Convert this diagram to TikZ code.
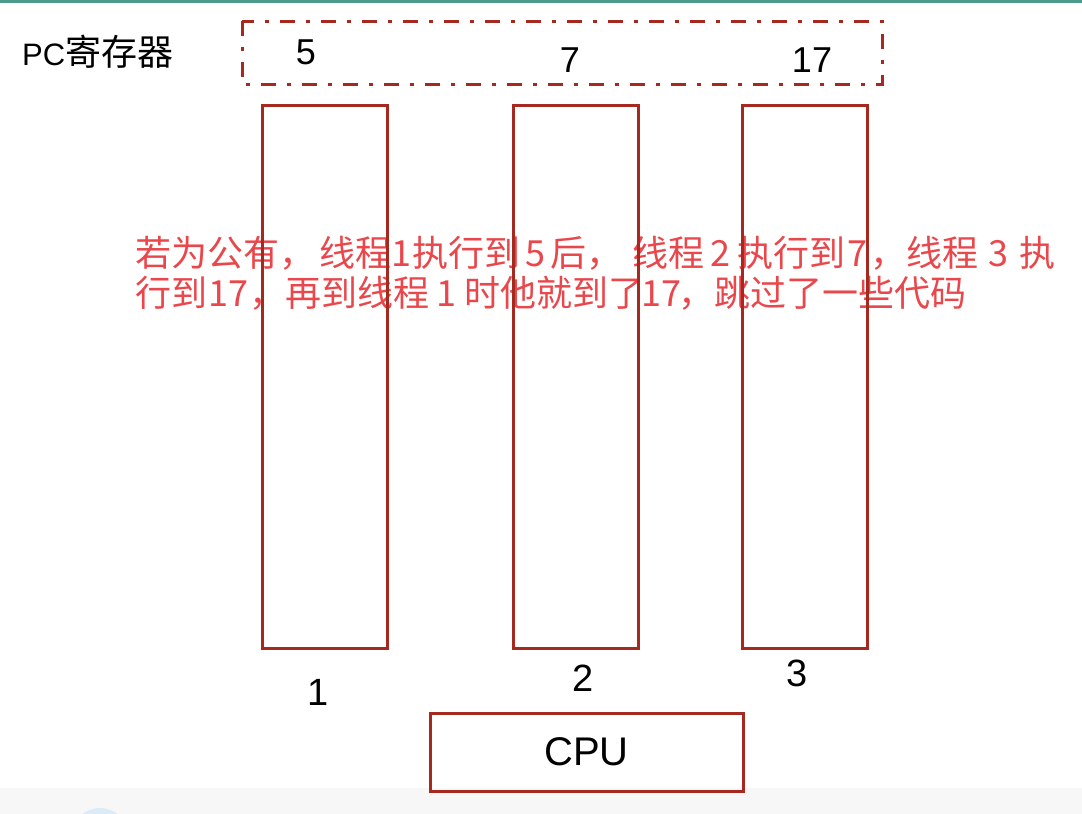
\documentclass[tikz,border=0pt]{standalone}
\usepackage{fontspec}
\setmainfont{Liberation Sans}
\newfontfamily\cjk{Noto Sans CJK SC}
\definecolor{boxred}{HTML}{A5291F}
\definecolor{notered}{HTML}{E9474B}
\definecolor{topline}{HTML}{4E9A8C}
\definecolor{blob}{HTML}{DDEBF6}
\newcommand{\dg}[2]{\makebox[#1pt]{#2}}
\tikzstyle{thread}=[rectangle, draw=boxred, line width=3pt, minimum width=125pt, minimum height=543pt, inner sep=0pt]
\tikzstyle{num}=[inner sep=0pt, font=\fontsize{36}{36}\selectfont]
\tikzstyle{note}=[inner sep=0pt, anchor=west, text=notered, font=\cjk\fontsize{36}{36}\selectfont]

\begin{document}
\begin{tikzpicture}[x=1pt, y=-1pt]
                    \useasboundingbox (0,0) rectangle (1082,814);
                    \fill[topline] (0,0) rectangle (1082,3);
                    \fill[black!3] (0,788) rectangle (1082,814);
                    \fill[blob] (100,836) circle (28);
                    \node[inner sep=0pt, anchor=base west] (pc) at (22, 65) {\fontsize{31}{31}\selectfont PC{\cjk\fontsize{36}{36}\selectfont 寄存器}};
                    \draw[boxred, line width=3pt, dash pattern=on 15pt off 11pt on 4pt off 11pt] (242, 21) rectangle (882, 84);
                    \node[num] (v5) at (306, 52) {5};
                    \node[num] (v7) at (570, 60) {7};
                    \node[num] (v17) at (812, 60) {17};
                    \node[note] (l1) at (135, 253) {若为公有，\hspace{4pt}线程\dg{21}{1}执行到\dg{30}{5}后，\hspace{10pt}线程\dg{33}{2}执行到\dg{25}{7}，线程\dg{41}{3}执};
                    \node[note] (l2) at (135, 293) {行到\dg{42}{17}，再到线程\dg{35}{1}时他就到了\dg{34}{17}，跳过了一些代码};
                    \node[thread] (t1) at (324.5, 376.5) {};
                    \node[thread] (t2) at (575.5, 376.5) {};
                    \node[thread] (t3) at (804.5, 376.5) {};
                    \node[num, font=\fontsize{38}{38}\selectfont] (n1) at (318, 692) {1};
                    \node[num, font=\fontsize{38}{38}\selectfont] (n2) at (583, 678) {2};
                    \node[num, font=\fontsize{38}{38}\selectfont] (n3) at (797, 673) {3};
                    \node[thread, minimum width=313pt, minimum height=78pt, font=\fontsize{40}{40}\selectfont] (cpu) at (586.5, 752) {CPU};
                \end{tikzpicture}
\end{document}
